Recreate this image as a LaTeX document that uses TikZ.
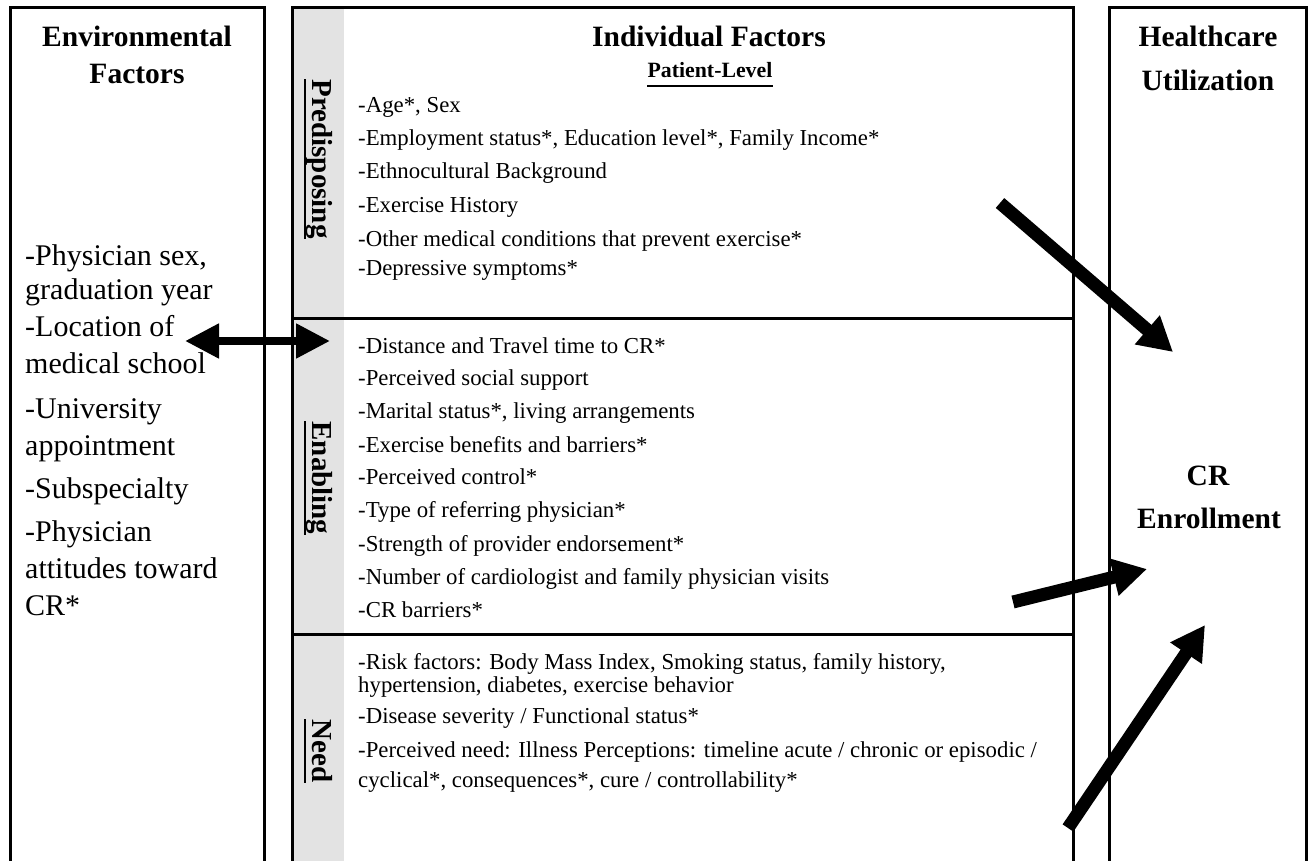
\documentclass[tikz,border=0pt]{standalone}
\usepackage{fontspec}
\setmainfont{Liberation Serif}
\usetikzlibrary{arrows.meta}
\definecolor{stripgray}{RGB}{227,227,227}
\newcommand{\HeadFont}{\fontsize{29.5}{34}\selectfont\bfseries}
\newcommand{\SubFont}{\fontsize{21.8}{25}\selectfont\bfseries}
\newcommand{\SideFont}{\fontsize{29}{33}\selectfont\bfseries}
\newcommand{\ItemFont}{\fontsize{22.8}{26}\selectfont}
\newcommand{\EnvFont}{\fontsize{30}{35}\selectfont}
\begin{document}
\begin{tikzpicture}[x=1pt,y=-1pt,
  boxline/.style={line width=3pt},
  ul/.style={line width=2.6pt},
  head/.style={anchor=base, inner sep=0pt, font=\HeadFont},
  side/.style={anchor=base, inner sep=0pt, rotate=-90, font=\SideFont},
  item/.style={anchor=base west, inner sep=0pt, font=\ItemFont},
  env/.style={anchor=base west, inner sep=0pt, font=\EnvFont},
  bigarrow/.style={line width=13pt, -{Triangle[length=34pt,width=36pt]}},
  dblarrow/.style={line width=8pt, {Triangle[length=34pt,width=33pt]}-{Triangle[length=34pt,width=33pt]}}
]
\useasboundingbox (0,0) rectangle (1314,861);
\fill[white] (0,0) rectangle (1314,861);

% gray strip
\fill[stripgray] (292,8) rectangle (344,861);

% boxes (open at the bottom)
\draw[boxline] (10,861) -- (10,8) -- (264,8) -- (264,861);
\draw[boxline] (292,861) -- (292,8) -- (1073,8) -- (1073,861);
\draw[boxline] (292,318) -- (1073,318);
\draw[boxline] (292,634) -- (1073,634);
\draw[boxline] (1109,861) -- (1109,8) -- (1306,8) -- (1306,861);

% headings
\node[head] (envh1) at (137,47) {Environmental};
\node[head] (envh2) at (137,84) {Factors};
\node[head] (indh) at (709,47) {Individual Factors};
\node[anchor=base, inner sep=0pt, font=\SubFont] (plev) at (710,78) {Patient-Level};
\draw[ul] ([yshift=-8pt]plev.base west) -- ([yshift=-8pt]plev.base east);
\node[head] (hch1) at (1208,47) {Healthcare};
\node[head] (hch2) at (1208,91) {Utilization};
\node[head] (cr1) at (1208,485) {CR};
\node[head] (cr2) at (1209,528) {Enrollment};

% side labels
\node[side] (pre) at (312,159) {Predisposing};
\draw[ul] ([xshift=-7pt]pre.base west) -- ([xshift=-7pt]pre.base east);
\node[side] (ena) at (312,478) {Enabling};
\draw[ul] ([xshift=-7pt]ena.base west) -- ([xshift=-7pt]ena.base east);
\node[side] (nee) at (312,751) {Need};
\draw[ul] ([xshift=-7pt]nee.base west) -- ([xshift=-7pt]nee.base east);

% environmental items
\node[env] (v1) at (25,265) {-Physician sex,};
\node[env] (v2) at (25,299) {graduation year};
\node[env] (v3) at (25,336) {-Location of};
\node[env] (v4) at (25,373) {medical school};
\node[env] (v5) at (25,418) {-University};
\node[env] (v6) at (25,455) {appointment};
\node[env] (v7) at (25,498) {-Subspecialty};
\node[env] (v8) at (25,541) {-Physician};
\node[env] (v9) at (25,578) {attitudes toward};
\node[env] (v10) at (25,615) {CR*};

% predisposing items
\node[item] (p1) at (358,113) {-Age*, Sex};
\node[item] (p2) at (358,146) {-Employment status*, Education level*, Family Income*};
\node[item] (p3) at (358,179) {-Ethnocultural Background};
\node[item] (p4) at (358,213) {-Exercise History};
\node[item] (p5) at (358,246) {-Other medical conditions that prevent exercise*};
\node[item] (p6) at (358,275) {-Depressive symptoms*};

% enabling items
\node[item] (e1) at (358,353) {-Distance and Travel time to CR*};
\node[item] (e2) at (358,385) {-Perceived social support};
\node[item] (e3) at (358,418) {-Marital status*, living arrangements};
\node[item] (e4) at (358,452) {-Exercise benefits and barriers*};
\node[item] (e5) at (358,484) {-Perceived control*};
\node[item] (e6) at (358,517) {-Type of referring physician*};
\node[item] (e7) at (358,551) {-Strength of provider endorsement*};
\node[item] (e8) at (358,584) {-Number of cardiologist and family physician visits};
\node[item] (e9) at (358,617) {-CR barriers*};

% need items
\node[item] (n1) at (358,669) {-Risk factors: Body Mass Index, Smoking status, family history,};
\node[item] (n2) at (358,692) {hypertension, diabetes, exercise behavior};
\node[item] (n3) at (358,723) {-Disease severity / Functional status*};
\node[item] (n4) at (358,757) {-Perceived need: Illness Perceptions: timeline acute / chronic or episodic /};
\node[item] (n5) at (358,787) {cyclical*, consequences*, cure / controllability*};

% arrows
\coordinate (dL) at (185,341);
\coordinate (dR) at (330,341);
\draw[dblarrow] (dL) -- (dR);

\coordinate (a1s) at (1000,203);
\coordinate (a1e) at (1173,352);
\draw[bigarrow] (a1s) -- (a1e);

\coordinate (a2s) at (1013,602);
\coordinate (a2e) at (1147,569);
\draw[bigarrow] (a2s) -- (a2e);

\coordinate (a3s) at (1068,828);
\coordinate (a3e) at (1205,625);
\draw[bigarrow] (a3s) -- (a3e);
\end{tikzpicture}
\end{document}
